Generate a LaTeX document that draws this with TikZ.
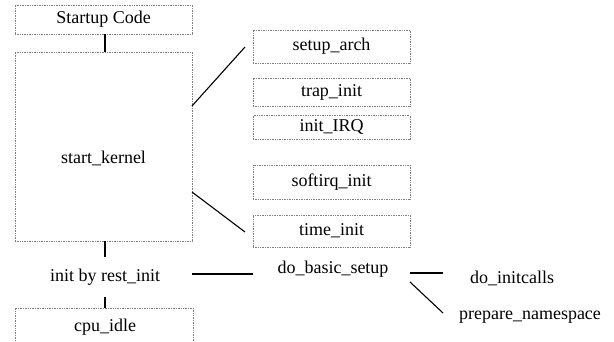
\documentclass[tikz,border=0pt]{standalone}
\usepackage{fontspec}
\setmainfont{Liberation Serif}
\begin{document}
\begin{tikzpicture}[x=1pt,y=-1pt,
  box/.style={draw=black!50, densely dotted, line width=0.7pt, inner sep=0pt},
  conn/.style={draw=black, line width=1.1pt},
  lbl/.style={font=\fontsize{18}{20}\selectfont, inner sep=0pt}]
\useasboundingbox (0,0) rectangle (614,342);
% left column
\node[box, lbl, minimum width=177pt, minimum height=29pt] (startup) at (103.5,19.5) {Startup Code};
\node[box, minimum width=177pt, minimum height=189pt] (sk) at (103.5,146.5) {};
\node[lbl] (sktext) at (103.5,158) {start\_kernel};
\node[lbl, minimum height=40pt] (rest) at (105,277) {init by rest\_init};
\node[box, minimum width=178pt, minimum height=42pt] (cpubox) at (104,329) {};
\node[lbl] (cpu) at (105,327) {cpu\_idle};
% right boxes
\node[box, lbl, minimum width=157pt, minimum height=33pt] (setup) at (331.5,46.5) {setup\_arch};
\node[box, lbl, minimum width=157pt, minimum height=28pt] (trap) at (331.5,92) {trap\_init};
\node[box, lbl, minimum width=157pt, minimum height=24pt] (irq) at (331.5,127.5) {init\_IRQ};
\node[box, lbl, minimum width=157pt, minimum height=34pt] (soft) at (331.5,182) {softirq\_init};
\node[box, lbl, minimum width=157pt, minimum height=32pt] (time) at (331.5,231) {time\_init};
% bottom row
\node[lbl] (dbs) at (333,269) {do\_basic\_setup};
\node[lbl] (initcalls) at (512,278) {do\_initcalls};
\node[lbl] (prep) at (530,317) {prepare\_namespace};
% connector ends
\coordinate (sk-up) at (192,106);
\coordinate (setup-w) at (245,47);
\coordinate (sk-dn) at (192,192);
\coordinate (time-w) at (245,232);
\coordinate (rest-e) at (192,274);
\coordinate (dbs-w) at (253,274);
\coordinate (dbs-e) at (410,273);
\coordinate (initcalls-w) at (443,273);
\coordinate (dbs-se) at (410,282);
\coordinate (prep-nw) at (443,313);
% connectors
\draw[conn] (rest.north |- startup.south) -- (rest.north |- sk.north);
\draw[conn] (rest.north |- sk.south) -- (rest.north);
\draw[conn] (rest.south) -- (rest.south |- cpubox.north);
\draw[conn] (sk-up) -- (setup-w);
\draw[conn] (sk-dn) -- (time-w);
\draw[conn] (rest-e) -- (dbs-w);
\draw[conn] (dbs-e) -- (initcalls-w);
\draw[conn] (dbs-se) -- (prep-nw);
\end{tikzpicture}
\end{document}
